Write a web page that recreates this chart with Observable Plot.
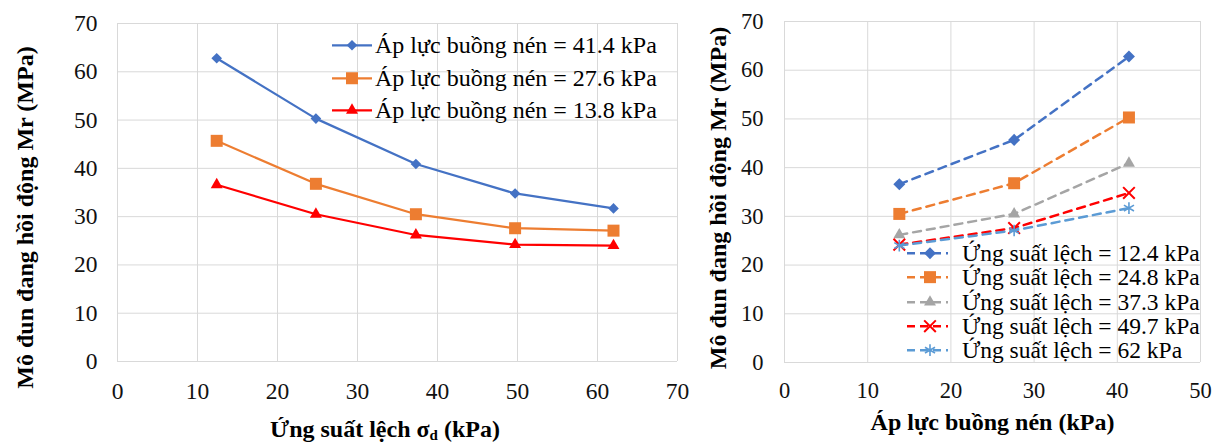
<!DOCTYPE html>
<html><head><meta charset="utf-8">
<script src="https://cdn.jsdelivr.net/npm/d3@7"></script>
<script src="https://cdn.jsdelivr.net/npm/@observablehq/plot@0.6"></script>
<style>
html,body{margin:0;padding:0;background:#fff;}
#wrap{position:relative;width:1212px;height:443px;overflow:hidden;font-family:"Liberation Serif","Times New Roman","DejaVu Serif",serif;}
#left{position:absolute;left:0;top:0;}
#right{position:absolute;left:700px;top:0;}
.legend{position:absolute;color:#000;}
.legend .row{display:flex;align-items:center;white-space:nowrap;}
.legend svg{display:block;overflow:visible;}
</style></head><body>
<div id="wrap"><div id="left"></div><div id="right"></div></div>
<script>
// ---------------- data ----------------
const deviatorStress = [12.4, 24.8, 37.3, 49.7, 62];     // kPa, left chart x
const confiningPressure = [13.8, 27.6, 41.4];            // kPa, right chart x
const mr_414 = [62.8, 50.3, 40.9, 34.8, 31.7];           // MPa at 41.4 kPa
const mr_276 = [45.7, 36.8, 30.5, 27.6, 27.1];           // MPa at 27.6 kPa
const mr_138 = [36.6, 30.5, 26.2, 24.2, 24.0];           // MPa at 13.8 kPa
const yTicks = [0, 10, 20, 30, 40, 50, 60, 70];
const xTicksLeft = [0, 10, 20, 30, 40, 50, 60, 70];
const xTicksRight = [0, 10, 20, 30, 40, 50];
const leftLabels = ["Áp lực buồng nén = 41.4 kPa", "Áp lực buồng nén = 27.6 kPa", "Áp lực buồng nén = 13.8 kPa"];
const rightLabels = ["Ứng suất lệch = 12.4 kPa", "Ứng suất lệch = 24.8 kPa", "Ứng suất lệch = 37.3 kPa", "Ứng suất lệch = 49.7 kPa", "Ứng suất lệch = 62 kPa"];
const yTitle = "Mô đun đang hồi động Mr (MPa)";
const xTitleRight = "Áp lực buồng nén (kPa)";

// ---------------- styles ----------------
const FONT = '"Liberation Serif","Times New Roman","DejaVu Serif",serif';
const GRID = "#d9d9d9";
const leftValues = [mr_414, mr_276, mr_138];
const leftStyle = [
  {color: "#4472C4", symbol: d3.symbolDiamond2, size: 72, fill: true},
  {color: "#ED7D31", symbol: d3.symbolSquare, size: 144, fill: true},
  {color: "#FF0000", symbol: d3.symbolTriangle, size: 62, fill: true}
];
const rightStyle = [
  {color: "#4472C4", symbol: d3.symbolDiamond2, size: 92, fill: true},
  {color: "#ED7D31", symbol: d3.symbolSquare, size: 144, fill: true},
  {color: "#A5A5A5", symbol: d3.symbolTriangle, size: 62, fill: true},
  {color: "#FF0000", symbol: d3.symbolTimes, size: 90, fill: false, sw: 2},
  {color: "#5B9BD5", symbol: d3.symbolAsterisk, size: 95, fill: false, sw: 1.6}
];

function seriesMarks(rows, st, dash, lw) {
  return [
    Plot.line(rows, {x: "x", y: "y", stroke: st.color, strokeWidth: lw, strokeDasharray: dash}),
    Plot.dot(rows, {x: "x", y: "y", symbol: st.symbol, r: Math.sqrt(st.size / Math.PI),
      fill: st.fill ? st.color : "none", stroke: st.fill ? "none" : st.color, strokeWidth: st.sw || 1})
  ];
}

// ---------------- left chart ----------------
const leftMarks = leftValues.flatMap((vals, k) =>
  seriesMarks(deviatorStress.map((x, i) => ({x, y: vals[i]})), leftStyle[k], null, 2.25));

const leftPlot = Plot.plot({
  width: 700, height: 443,
  marginLeft: 117, marginRight: 23, marginTop: 23, marginBottom: 82,
  x: {domain: [0, 70]}, y: {domain: [0, 70]},
  style: {fontFamily: FONT, fontSize: "23.5px", color: "#111", background: "white", overflow: "visible"},
  marks: [
    Plot.gridX({ticks: xTicksLeft, stroke: GRID, strokeOpacity: 1, strokeWidth: 1}),
    Plot.gridY({ticks: yTicks, stroke: GRID, strokeOpacity: 1, strokeWidth: 1}),
    Plot.axisX({ticks: xTicksLeft, tickSize: 0, tickPadding: 21, fontSize: 23.5, label: null}),
    Plot.axisY({ticks: yTicks, tickSize: 0, tickPadding: 20, fontSize: 23.5, label: null}),
    ...leftMarks,
    Plot.text([yTitle], {text: d => d, frameAnchor: "left", textAnchor: "middle", lineAnchor: "middle",
      dx: -92, dy: 25, rotate: -90, fontSize: 24, fontWeight: "bold", fill: "#000"})
  ]
});
document.getElementById("left").appendChild(leftPlot);
// x title with subscript
const tl = d3.select(leftPlot).append("text")
  .attr("x", 385).attr("y", 437).attr("text-anchor", "middle")
  .attr("font-family", FONT).attr("font-size", 24).attr("font-weight", "bold").attr("fill", "#000");
tl.append("tspan").text("Ứng suất lệch σ");
tl.append("tspan").attr("dy", 3).attr("font-size", 15).text("d");
tl.append("tspan").attr("dy", -3).text(" (kPa)");

// ---------------- right chart ----------------
const rightMarks = deviatorStress.flatMap((ds, j) =>
  seriesMarks(confiningPressure.map((x, i) => ({x, y: [mr_138, mr_276, mr_414][i][j]})), rightStyle[j], "8,6", 2.5));

const rightPlot = Plot.plot({
  width: 512, height: 443,
  marginLeft: 84, marginRight: 12, marginTop: 21, marginBottom: 81,
  x: {domain: [0, 50]}, y: {domain: [0, 70]},
  style: {fontFamily: FONT, fontSize: "22.5px", color: "#111", background: "white", overflow: "visible"},
  marks: [
    Plot.gridX({ticks: xTicksRight, stroke: GRID, strokeOpacity: 1, strokeWidth: 1}),
    Plot.gridY({ticks: yTicks, stroke: GRID, strokeOpacity: 1, strokeWidth: 1}),
    Plot.axisX({ticks: xTicksRight, tickSize: 0, tickPadding: 20, fontSize: 22.5, label: null}),
    Plot.axisY({ticks: yTicks, tickSize: 0, tickPadding: 21, fontSize: 22.5, label: null}),
    ...rightMarks,
    Plot.text([yTitle], {text: d => d, frameAnchor: "left", textAnchor: "middle", lineAnchor: "middle",
      dx: -66, dy: 6, rotate: -90, fontSize: 24, fontWeight: "bold", fill: "#000"}),
    Plot.text([xTitleRight], {text: d => d, frameAnchor: "bottom", textAnchor: "middle", dy: 50, lineAnchor: "top",
      fontSize: 24, fontWeight: "bold", fill: "#000"})
  ]
});
document.getElementById("right").appendChild(rightPlot);

// ---------------- legends ----------------
function legend(labels, styles, o) {
  const div = document.createElement("div");
  div.className = "legend";
  div.style.left = o.left + "px"; div.style.top = o.top + "px";
  labels.forEach((lab, k) => {
    const st = styles[k];
    const row = document.createElement("div");
    row.className = "row"; row.style.height = o.rowH + "px";
    const svg = d3.create("svg").attr("width", o.swW).attr("height", o.rowH);
    svg.append("line").attr("x1", 0).attr("x2", o.swW).attr("y1", o.rowH / 2).attr("y2", o.rowH / 2)
      .attr("stroke", st.color).attr("stroke-width", o.lw).attr("stroke-dasharray", o.dash || null);
    svg.append("path").attr("transform", `translate(${o.mx},${o.rowH / 2})`)
      .attr("d", d3.symbol(st.symbol, st.size)())
      .attr("fill", st.fill ? st.color : "none").attr("stroke", st.fill ? "none" : st.color)
      .attr("stroke-width", st.sw || 1);
    row.appendChild(svg.node());
    const span = document.createElement("span");
    span.textContent = lab; span.style.fontSize = o.fs + "px"; span.style.marginLeft = o.gap + "px";
    span.style.lineHeight = o.rowH + "px";
    row.appendChild(span);
    div.appendChild(row);
  });
  document.getElementById("wrap").appendChild(div);
}
legend(leftLabels, leftStyle, {left: 332, top: 29, rowH: 32.5, swW: 40, mx: 20, gap: 3, fs: 24, lw: 2.25});
legend(rightLabels, rightStyle, {left: 907, top: 241, rowH: 24.3, swW: 41, mx: 23, gap: 14, fs: 23.5, lw: 2.5, dash: "8,5"});
</script>
</body></html>
